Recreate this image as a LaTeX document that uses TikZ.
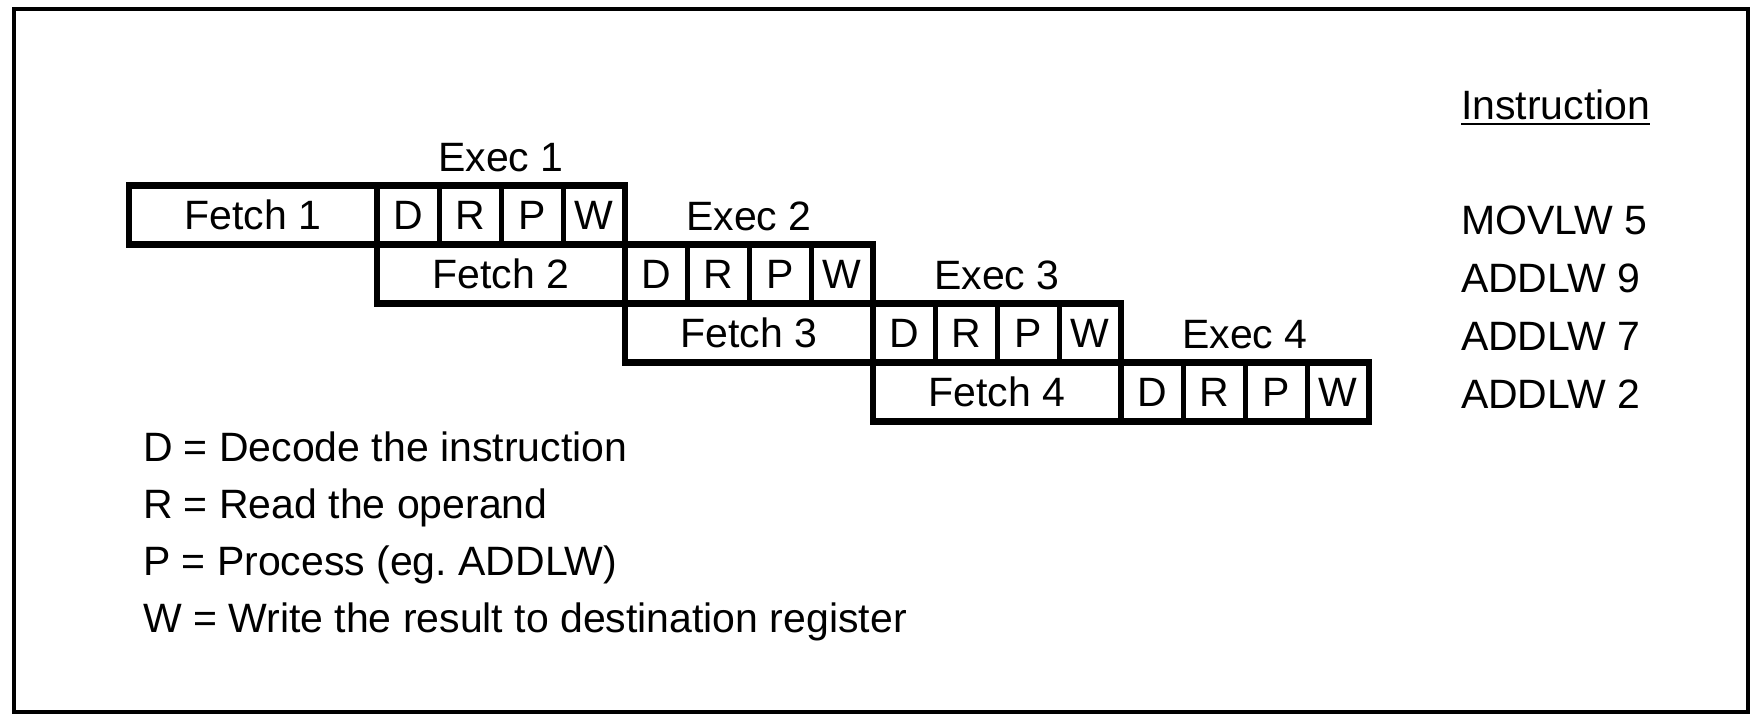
\documentclass[tikz,border=0pt]{standalone}
\usepackage{fontspec}
\setmainfont{Liberation Sans}
\begin{document}
\begin{tikzpicture}[x=1pt,y=-1pt,
  every node/.style={font=\fontsize{41}{49}\selectfont, inner sep=0pt, outer sep=0pt},
  fetchbox/.style={draw, line width=6.5pt, minimum width=248pt, minimum height=59pt, text height=29pt, text depth=0pt},
  stagebox/.style={draw, line width=5pt, minimum width=62pt, minimum height=59pt, text height=29pt, text depth=0pt},
  lbl/.style={text height=29pt, text depth=0pt},
  txt/.style={anchor=base west},
  rowframe/.style={draw, line width=6.5pt}]
\useasboundingbox (0,0) rectangle (1752,715);
\draw[line width=4pt] (14,9) rectangle (1748,712);
\foreach \i [evaluate=\i as \fx using 253+248*\i,
             evaluate=\i as \cy using 215+59*\i,
             evaluate=\i as \n using int(\i+1),
             evaluate=\i as \ex using 501+248*\i,
             evaluate=\i as \ey using 157+59*\i] in {0,...,3} {
  \foreach \L [count=\k from 0, evaluate=\k as \lx using 408+248*\i+62*\k] in {D,R,P,W} {
    \node[stagebox] (\L\i) at (\lx,\cy) {\L};
  }
  \node[fetchbox] (f\i) at (\fx,\cy) {Fetch \n};
  \draw[rowframe] (f\i.north west) rectangle (W\i.south east);
  \node[lbl] (e\i) at (\ex,\ey) {Exec \n};
}
\node[txt] (ih) at (1461,119) {Instruction};
\draw[line width=2.5pt] ([yshift=-5pt]ih.base west) -- ([yshift=-5pt]ih.base east);
\node[txt] (i1) at (1461,234) {MOVLW 5};
\node[txt] (i2) at (1461,292) {ADDLW 9};
\node[txt] (i3) at (1461,350) {ADDLW 7};
\node[txt] (i4) at (1461,408) {ADDLW 2};
\node[txt] (l1) at (143,461) {D = Decode the instruction};
\node[txt] (l2) at (143,518) {R = Read the operand};
\node[txt] (l3) at (143,575) {P = Process (eg.\ ADDLW)};
\node[txt] (l4) at (143,632) {W = Write the result to destination register};
\end{tikzpicture}
\end{document}
